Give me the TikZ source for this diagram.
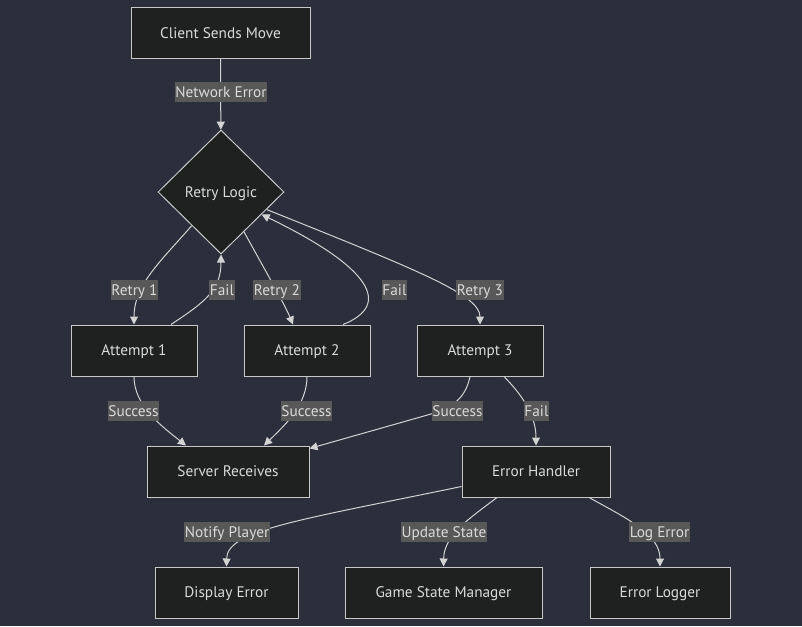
\documentclass[tikz,border=0pt]{standalone}
\usepackage{fontspec}
\setmainfont{PT Sans}
\usetikzlibrary{shapes.geometric,arrows.meta}
\definecolor{bgc}{RGB}{42,47,59}
\definecolor{nodefill}{RGB}{31,32,32}
\definecolor{nodeline}{RGB}{200,200,200}
\definecolor{edgecol}{RGB}{211,211,211}
\definecolor{lblfill}{RGB}{88,88,88}
\definecolor{txt}{RGB}{218,218,218}
\begin{document}
\begin{tikzpicture}[x=1pt,y=1pt,
  box/.style={draw=nodeline, fill=nodefill, line width=1pt, text=txt, minimum height=51pt, inner sep=0pt, text height=11pt, text depth=1pt, font=\fontsize{15.3}{17}\selectfont},
  dia/.style={diamond, draw=nodeline, fill=nodefill, line width=1pt, text=txt, minimum width=126pt, minimum height=124pt, inner sep=0pt, text height=11pt, text depth=1pt, font=\fontsize{15.3}{17}\selectfont},
  lbl/.style={fill=lblfill, text=txt, inner xsep=0.8pt, inner ysep=0pt, minimum height=20pt, text height=11pt, text depth=1pt, font=\fontsize{15.3}{17}\selectfont},
  edge/.style={draw=edgecol, line width=1pt, -{Triangle[length=8pt,width=8pt]}},
]
\fill[bgc] (0,0) rectangle (802,-626);
\useasboundingbox (0,0) rectangle (802,-626);

\node[box,minimum width=179pt] (csm) at (220.5,-33) {Client Sends Move};
\node[dia] (rl) at (221,-192) {Retry Logic};
\node[box,minimum width=126pt] (a1) at (134,-350.5) {Attempt 1};
\node[box,minimum width=126pt] (a2) at (307,-350.5) {Attempt 2};
\node[box,minimum width=126pt] (a3) at (480,-350.5) {Attempt 3};
\node[box,minimum width=162pt] (sr) at (228,-471.5) {Server Receives};
\node[box,minimum width=148pt] (eh) at (536,-471.5) {Error Handler};
\node[box,minimum width=143pt] (de) at (226.5,-592.5) {Display Error};
\node[box,minimum width=197pt] (gsm) at (443.5,-592.5) {Game State Manager};
\node[box,minimum width=140pt] (el) at (660,-592.5) {Error Logger};

\draw[edge] (csm) -- (rl);
\draw[edge] (rl.-131) .. controls (160,-262) and (134,-285) .. (a1.north);
\draw[edge] ([xshift=37pt]a1.north) .. controls (205,-302) and (221,-290) .. (rl.south);
\draw[edge] (rl.-60) .. controls (265,-270) and (285,-305) .. ([xshift=-14pt]a2.north);
\draw[edge] ([xshift=36pt]a2.north) .. controls (392,-305) and (372,-268) .. (rl.-29);
\draw[edge] (rl.-21) .. controls (420,-271) and (480,-295) .. (a3.north);
\draw[edge] (a1.south) .. controls (134,-405) and (160,-425) .. ([xshift=-42pt]sr.north);
\draw[edge] (a2.south) .. controls (307,-405) and (285,-425) .. ([xshift=36pt]sr.north);
\draw[edge] ([xshift=-10pt]a3.south) .. controls (466,-396) and (455,-407) .. (431,-414) -- ([yshift=-3pt]sr.north east);
\draw[edge] ([xshift=24pt]a3.south) .. controls (522,-395) and (536,-415) .. (eh.north);
\draw[edge] ([yshift=-15pt]eh.west) .. controls (300,-520) and (227,-530) .. (de.north);
\draw[edge] ([xshift=-39pt]eh.south) .. controls (470,-518) and (444,-535) .. (gsm.north);
\draw[edge] ([xshift=53pt]eh.south) .. controls (630,-520) and (660,-535) .. (el.north);

\node[lbl] (l0) at (221,-92) {Network Error};
\node[lbl] (l1) at (134.5,-290) {Retry 1};
\node[lbl] (l2) at (222,-290) {Fail};
\node[lbl] (l3) at (277,-290) {Retry 2};
\node[lbl] (l4) at (394.5,-290) {Fail};
\node[lbl] (l5) at (480,-290) {Retry 3};
\node[lbl] (l6) at (133.5,-411) {Success};
\node[lbl] (l7) at (306.5,-411) {Success};
\node[lbl] (l8) at (457.5,-411) {Success};
\node[lbl] (l9) at (536.5,-411) {Fail};
\node[lbl] (l10) at (227,-532) {Notify Player};
\node[lbl] (l11) at (444,-532) {Update State};
\node[lbl] (l12) at (659.5,-532) {Log Error};
\end{tikzpicture}
\end{document}
